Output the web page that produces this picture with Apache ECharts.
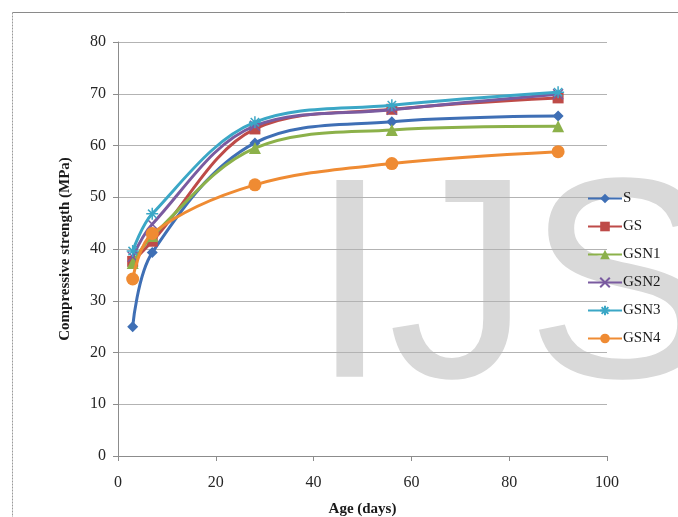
<!DOCTYPE html>
<html>
<head>
<meta charset="utf-8">
<script src="https://cdn.jsdelivr.net/npm/echarts@6/dist/echarts.min.js"></script>
<style>html,body{margin:0;padding:0;background:#fff}#c{width:678px;height:517px}</style>
</head>
<body>
<div id="c"></div>
<script>
var ages = [3, 7, 28, 56, 90];
var seriesNames = ['S', 'GS', 'GSN1', 'GSN2', 'GSN3', 'GSN4'];
var S    = [25.0, 39.3, 60.5, 64.6, 65.7];
var GS   = [37.6, 41.5, 63.2, 67.0, 69.2];
var GSN1 = [37.3, 42.5, 59.5, 63.0, 63.7];
var GSN2 = [38.5, 44.8, 63.8, 66.9, 69.9];
var GSN3 = [39.6, 46.8, 64.5, 67.8, 70.3];
var GSN4 = [34.2, 43.0, 52.4, 56.5, 58.8];
var xTicks = [0, 20, 40, 60, 80, 100];
var yTicks = [0, 10, 20, 30, 40, 50, 60, 70, 80];

var values = [S, GS, GSN1, GSN2, GSN3, GSN4];
var colors = ['#3f6fb5', '#be4b48', '#8cb14a', '#7a5ba0', '#3ba7c6', '#ef8b33'];
var symbols = [
  'diamond',
  'rect',
  'triangle',
  'path://M0,0L10,10M10,0L0,10',
  'path://M5,0L5,10M0,5L10,5M1.5,1.5L8.5,8.5M8.5,1.5L1.5,8.5',
  'circle'
];
var symbolSizes = [11, 11, 12, 10, 12, 13];
var serif = '"Liberation Serif", "Times New Roman", serif';
var wmFont = '286px "Liberation Sans", Arial, sans-serif';

var chart = echarts.init(document.getElementById('c'));
var series = seriesNames.map(function (n, i) {
  var isStroke = i === 3 || i === 4;
  return {
    name: n,
    type: 'line',
    smooth: 0.35,
    data: ages.map(function (a, j) { return [a, values[i][j]]; }),
    symbol: symbols[i],
    symbolSize: symbolSizes[i],
    showSymbol: true,
    lineStyle: { color: colors[i], width: 3 },
    itemStyle: isStroke
      ? { color: colors[i], borderColor: colors[i], borderWidth: 1.5 }
      : { color: colors[i], borderWidth: 0 },
    emphasis: { disabled: true },
    z: 3 + i
  };
});

function wm(ch, x) {
  return {
    type: 'text', z: -10, silent: true,
    style: {
      x: x, y: 298, text: ch, fill: '#d9d9d9', font: wmFont,
      textAlign: 'left', textVerticalAlign: 'middle'
    }
  };
}

chart.setOption({
  animation: false,
  backgroundColor: '#fff',
  graphic: [
    wm('I', 310), wm('J', 388), wm('S', 526),
    {
      type: 'line', z: -5, silent: true,
      shape: { x1: 12.5, y1: 12.5, x2: 678, y2: 12.5 },
      style: { stroke: '#8a8a8a', lineWidth: 1 }
    },
    {
      type: 'line', z: -5, silent: true,
      shape: { x1: 12.5, y1: 12.5, x2: 12.5, y2: 517 },
      style: { stroke: '#9a9a9a', lineWidth: 1, lineDash: [2, 1] }
    }
  ],
  grid: { left: 118, right: 71, top: 42, bottom: 61, containLabel: false, outerBoundsMode: 'none' },
  legend: {
    orient: 'vertical',
    left: 582, top: 186,
    itemWidth: 34, itemHeight: 12, itemGap: 13,
    data: seriesNames,
    textStyle: { fontFamily: serif, fontSize: 15, color: '#1a1a1a', padding: [0, 0, 0, -4] },
    selectedMode: false
  },
  xAxis: {
    type: 'value', min: 0, max: 100, interval: 20,
    name: 'Age (days)', nameLocation: 'middle', nameGap: 46,
    nameTextStyle: { fontFamily: serif, fontSize: 15, fontWeight: 'bold', color: '#1a1a1a' },
    axisLine: { show: true, lineStyle: { color: '#8c8c8c', width: 1 } },
    axisTick: { show: true, length: 5, lineStyle: { color: '#8c8c8c' }, customValues: xTicks },
    axisLabel: { fontFamily: serif, fontSize: 16, color: '#262626', margin: 19, customValues: xTicks },
    splitLine: { show: false }
  },
  yAxis: {
    type: 'value', min: 0, max: 80, interval: 10,
    name: 'Compressive strength (MPa)', nameLocation: 'middle', nameGap: 45,
    nameTextStyle: { fontFamily: serif, fontSize: 15, fontWeight: 'bold', color: '#1a1a1a' },
    axisLine: { show: true, lineStyle: { color: '#8c8c8c', width: 1 } },
    axisTick: { show: true, length: 5, lineStyle: { color: '#8c8c8c' }, customValues: yTicks },
    axisLabel: { fontFamily: serif, fontSize: 16, color: '#262626', margin: 12, customValues: yTicks },
    splitLine: { show: true, lineStyle: { color: '#b3b3b3', width: 1 } }
  },
  series: series
});
</script>
</body>
</html>
